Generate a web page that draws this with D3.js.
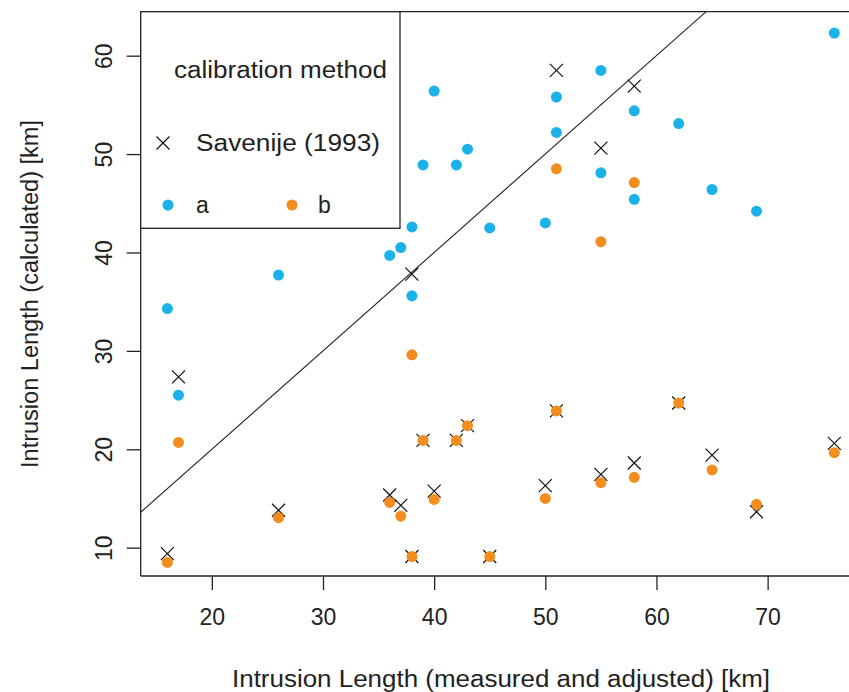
<!DOCTYPE html>
<html><head><meta charset="utf-8">
<script src="https://cdn.jsdelivr.net/npm/d3@7"></script>
<style>body{margin:0;background:#fff}svg{display:block}text{font-family:"Liberation Sans",Arial,sans-serif;fill:#222}</style>
</head><body><svg id="c" width="849" height="692"></svg>
<script>
const measured = [16,17,26,36,37,38,38,39,40,42,43,45,50,51,51,55,55,58,58,62,65,69,76];
const calibA   = [34.3,25.5,37.7,39.7,40.5,42.6,35.6,48.9,56.4,48.9,50.5,42.5,43.0,55.8,52.2,58.5,48.1,54.4,45.4,53.1,46.4,44.2,62.3];
const calibB   = [8.5,20.7,13.05,14.6,13.2,9.1,29.6,20.9,14.9,20.9,22.4,9.1,15.0,23.9,48.5,16.6,41.1,17.15,47.1,24.7,17.9,14.4,19.65];
const savenije = [9.4,27.35,13.8,15.35,14.3,9.1,37.8,20.9,15.75,20.9,22.4,9.1,16.3,23.9,58.5,17.45,50.6,18.6,56.9,24.7,19.4,13.65,20.6];
const xTicks = [20,30,40,50,60,70];
const yTicks = [10,20,30,40,50,60];
const xDomain = [13.6,78.4];
const yDomain = [7.12,64.47];

const svg = d3.select("#c");
const L=140.7, R=861, T=11.7, B=576;
const x = d3.scaleLinear().domain(xDomain).range([L,R]);
const y = d3.scaleLinear().domain(yDomain).range([B,T]);
const blue="#1AB2E8", orange="#F28D1E";
const FS = 23;

// 1:1 line
svg.append("line").attr("x1",x(xDomain[0])).attr("y1",y(xDomain[0]))
  .attr("x2",x(yDomain[1])).attr("y2",y(yDomain[1]))
  .attr("stroke","#222").attr("stroke-width",1.1);

// axes
const xa = svg.append("g").attr("transform",`translate(0,${B})`)
  .call(d3.axisBottom(x).tickValues(xTicks).tickSize(14).tickPadding(19).tickFormat(d3.format("d")));
const ya = svg.append("g").attr("transform",`translate(${L},0)`)
  .call(d3.axisLeft(y).tickValues(yTicks).tickSize(14).tickPadding(11).tickFormat(d3.format("d")));
[xa,ya].forEach(g=>{g.selectAll("path,line").attr("stroke","#222").attr("stroke-width",1.3);
  g.selectAll("text").attr("font-size",FS).attr("fill","#222").attr("font-family","Liberation Sans, Arial, sans-serif");});
xa.select(".domain").attr("d",`M${L},0H${R}`);
ya.select(".domain").attr("d",`M0,${B}V${T}`);
ya.selectAll(".tick text").attr("text-anchor","middle").attr("dy",null)
  .attr("transform","translate(-37,0) rotate(-90)").attr("x",0).attr("y",8);
// top border
svg.append("line").attr("x1",L).attr("x2",R).attr("y1",T).attr("y2",T).attr("stroke","#222").attr("stroke-width",1.3);

// points: crosses first, then dots
const idx = d3.range(measured.length);
const cs = 6.5;
svg.append("g").selectAll("path").data(idx).join("path")
  .attr("d",i=>{const px=x(measured[i]), py=y(savenije[i]);
    return `M${px-cs},${py-cs}L${px+cs},${py+cs}M${px-cs},${py+cs}L${px+cs},${py-cs}`;})
  .attr("stroke","#111").attr("stroke-width",1.2).attr("fill","none");
svg.append("g").selectAll("circle").data(idx).join("circle")
  .attr("cx",i=>x(measured[i])).attr("cy",i=>y(calibA[i])).attr("r",5.5).attr("fill",blue);
svg.append("g").selectAll("circle").data(idx).join("circle")
  .attr("cx",i=>x(measured[i])).attr("cy",i=>y(calibB[i])).attr("r",5.5).attr("fill",orange);

// legend
const lg = svg.append("g");
lg.append("rect").attr("x",L).attr("y",T).attr("width",400-L).attr("height",228.3-T)
  .attr("fill","#fff").attr("stroke","#222").attr("stroke-width",1.3);
lg.append("text").attr("x",174).attr("y",78).attr("font-size",FS).text("calibration method").attr("textLength",213).attr("lengthAdjust","spacingAndGlyphs");
lg.append("path").attr("d",`M${163-cs},${143-cs}L${163+cs},${143+cs}M${163-cs},${143+cs}L${163+cs},${143-cs}`).attr("stroke","#111").attr("stroke-width",1.2);
lg.append("text").attr("x",196).attr("y",151).attr("font-size",FS).text("Savenije (1993)").attr("textLength",184).attr("lengthAdjust","spacingAndGlyphs");
lg.append("circle").attr("cx",168).attr("cy",205).attr("r",5.5).attr("fill",blue);
lg.append("text").attr("x",196).attr("y",213).attr("font-size",FS).text("a");
lg.append("circle").attr("cx",292).attr("cy",205).attr("r",5.5).attr("fill",orange);
lg.append("text").attr("x",318).attr("y",213).attr("font-size",FS).text("b");

// axis titles
svg.append("text").attr("x",501).attr("y",687).attr("text-anchor","middle").attr("font-size",FS)
  .text("Intrusion Length (measured and adjusted) [km]").attr("textLength",538).attr("lengthAdjust","spacingAndGlyphs");
svg.append("text").attr("transform","translate(38,294) rotate(-90)").attr("text-anchor","middle").attr("font-size",FS)
  .text("Intrusion Length (calculated) [km]").attr("textLength",348).attr("lengthAdjust","spacingAndGlyphs");
</script></body></html>
